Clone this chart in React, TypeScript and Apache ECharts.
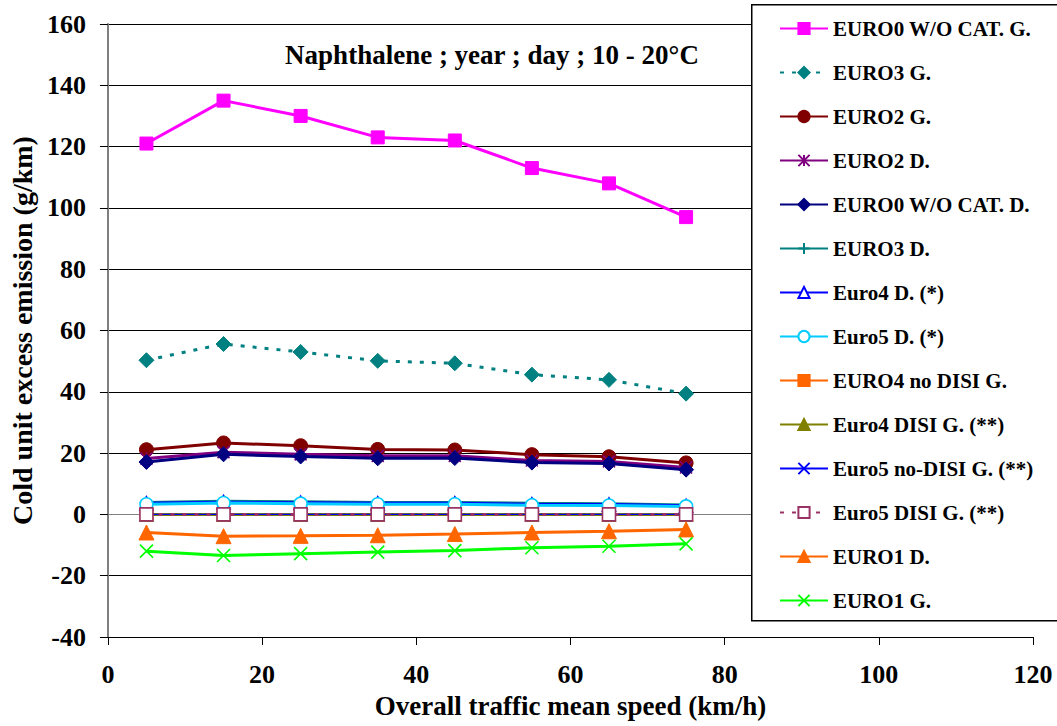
import React, { useEffect, useRef } from "react";
import * as echarts from "echarts";

const speeds = [5, 15, 25, 35, 45, 55, 65, 75];
const seriesNames = [
  "EURO0 W/O CAT. G.",
  "EURO3 G.",
  "EURO2 G.",
  "EURO2 D.",
  "EURO0 W/O CAT. D.",
  "EURO3 D.",
  "Euro4 D. (*)",
  "Euro5 D. (*)",
  "EURO4 no DISI G.",
  "Euro4 DISI G. (**)",
  "Euro5 no-DISI G. (**)",
  "Euro5 DISI G. (**)",
  "EURO1 D.",
  "EURO1 G.",
];
const euro0G = [121, 135, 130, 123, 122, 113, 108, 97];
const euro3G = [50.3, 55.6, 53, 50.1, 49.3, 45.6, 43.9, 39.4];
const euro2G = [21.1, 23.3, 22.4, 21.2, 21, 19.5, 18.8, 16.8];
const euro2D = [18.2, 20.3, 19.6, 19.1, 19.1, 17.6, 17.3, 15.3];
const euro0D = [17.1, 19.6, 18.9, 18.3, 18.4, 16.9, 16.6, 14.6];
const euro3D = [3.9, 4.3, 4.1, 3.9, 3.9, 3.6, 3.5, 3.1];
const euro4D = [3.6, 4.0, 3.8, 3.6, 3.6, 3.3, 3.2, 2.8];
const euro5D = [3.3, 3.7, 3.5, 3.3, 3.3, 3.0, 2.9, 2.6];
const euro4NoDisiG = [0, 0, 0, 0, 0, 0, 0, 0];
const euro4DisiG = [0, 0, 0, 0, 0, 0, 0, 0];
const euro5NoDisiG = [0, 0, 0, 0, 0, 0, 0, 0];
const euro5DisiG = [0, 0, 0, 0, 0, 0, 0, 0];
const euro1D = [-5.9, -7.1, -7.0, -6.8, -6.4, -5.9, -5.5, -4.9];
const euro1G = [-12, -13.4, -12.8, -12.3, -11.8, -10.9, -10.4, -9.6];

const allValues = [
  euro0G, euro3G, euro2G, euro2D, euro0D, euro3D, euro4D, euro5D,
  euro4NoDisiG, euro4DisiG, euro5NoDisiG, euro5DisiG, euro1D, euro1G,
];

const yTicks = [-40, -20, 0, 20, 40, 60, 80, 100, 120, 140, 160];
const xTicks = [0, 20, 40, 60, 80, 100, 120];

const FONT = "'Liberation Serif', 'Times New Roman', serif";
const STAR = "path://M5,0L5,10M0,0L10,10M10,0L0,10";
const XMARK = "path://M0,0L10,10M10,0L0,10";
const PLUS = "path://M5,0L5,10M0,5L10,5";

type Style = {
  color: string;
  symbol: string;
  size: number;
  width: number;
  dashed?: boolean;
  hollow?: boolean;
  stroke?: boolean;
};

const styles: Style[] = [
  { color: "#FF00FF", symbol: "rect", size: 13, width: 3 },
  { color: "#008080", symbol: "diamond", size: 15, width: 3, dashed: true },
  { color: "#800000", symbol: "circle", size: 14, width: 3 },
  { color: "#800080", symbol: STAR, size: 12, width: 3, stroke: true },
  { color: "#000080", symbol: "diamond", size: 15, width: 3 },
  { color: "#008080", symbol: PLUS, size: 12, width: 3, stroke: true },
  { color: "#0000FF", symbol: "triangle", size: 13, width: 3, hollow: true },
  { color: "#00CCFF", symbol: "circle", size: 13, width: 3, hollow: true },
  { color: "#FF6600", symbol: "rect", size: 13, width: 3 },
  { color: "#808000", symbol: "triangle", size: 14, width: 3 },
  { color: "#0000FF", symbol: XMARK, size: 12, width: 1.2, stroke: true },
  { color: "#993366", symbol: "rect", size: 13, width: 3, dashed: true, hollow: true },
  { color: "#FF6600", symbol: "triangle", size: 15, width: 3 },
  { color: "#00FF00", symbol: XMARK, size: 13, width: 3, stroke: true },
];

export default function App() {
  const ref = useRef<HTMLDivElement>(null);
  useEffect(() => {
    if (!ref.current) return;
    document.body.style.margin = "0";
    const chart = echarts.init(ref.current, null, { renderer: "svg" });
    const series = seriesNames.map((name, i) => {
      const s = styles[i];
      const itemStyle: any = s.stroke
        ? { color: "rgba(0,0,0,0)", borderColor: s.color, borderWidth: 1.6 }
        : s.hollow
        ? { color: "#ffffff", borderColor: s.color, borderWidth: 1.6 }
        : { color: s.color, borderColor: s.color, borderWidth: 1 };
      return {
        name,
        type: "line",
        data: speeds.map((x, j) => [x, allValues[i][j]]),
        symbol: s.symbol,
        symbolSize: s.size,
        showAllSymbol: true,
        lineStyle: {
          color: s.color,
          width: s.width,
          type: s.dashed ? [4, 8] : "solid",
        },
        itemStyle,
        emphasis: { disabled: true },
        z: 2 + i,
      };
    });
    chart.setOption({
      animation: false,
      backgroundColor: "#ffffff",
      grid: { left: 101, right: 24, top: 24, bottom: 89, containLabel: false },
      title: {
        text: "Naphthalene ; year ; day ; 10 - 20°C",
        left: 487,
        top: 36,
        textAlign: "center",
        textStyle: { fontFamily: FONT, fontWeight: "bold", fontSize: 27, color: "#000" },
      },
      xAxis: {
        type: "value",
        min: xTicks[0],
        max: xTicks[xTicks.length - 1],
        interval: 20,
        name: "Overall traffic mean speed (km/h)",
        nameLocation: "middle",
        nameGap: 55,
        nameTextStyle: { fontFamily: FONT, fontWeight: "bold", fontSize: 27, color: "#000" },
        axisLine: { onZero: false, lineStyle: { color: "#000", width: 1 } },
        axisTick: { show: true, length: 8, lineStyle: { color: "#000" } },
        axisLabel: { fontFamily: FONT, fontWeight: "bold", fontSize: 26, color: "#000", margin: 24 },
        splitLine: { show: false },
      },
      yAxis: {
        type: "value",
        min: yTicks[0],
        max: yTicks[yTicks.length - 1],
        interval: 20,
        name: "Cold unit excess emission (g/km)",
        nameLocation: "middle",
        nameGap: 67,
        nameTextStyle: { fontFamily: FONT, fontWeight: "bold", fontSize: 28, color: "#000" },
        axisLine: { show: true, onZero: false, lineStyle: { color: "#808080", width: 2 } },
        axisTick: { show: true, length: 8, lineStyle: { color: "#000" } },
        axisLabel: { fontFamily: FONT, fontWeight: "bold", fontSize: 26, color: "#000", margin: 22 },
        splitLine: {
          show: true,
          lineStyle: {
            color: yTicks.map((t) => (t === 0 ? "#808080" : "#000000")),
            width: 1,
          },
        },
      },
      legend: {
        orient: "vertical",
        left: 779,
        top: 18,
        itemWidth: 48,
        itemHeight: 14,
        itemGap: 23,
        padding: 0,
        z: 10,
        selectedMode: false,
        textStyle: {
          fontFamily: FONT,
          fontWeight: "bold",
          fontSize: 21,
          color: "#000",
        },
        data: seriesNames,
      },
      graphic: [
        {
          type: "rect",
          left: 751,
          top: 4,
          shape: { width: 320, height: 616 },
          style: { fill: "#ffffff", stroke: "#000", lineWidth: 1.5 },
          z: 3,
        },
      ],
      series,
    });
    return () => chart.dispose();
  }, []);
  return <div ref={ref} style={{ width: 1057, height: 726 }} />;
}
